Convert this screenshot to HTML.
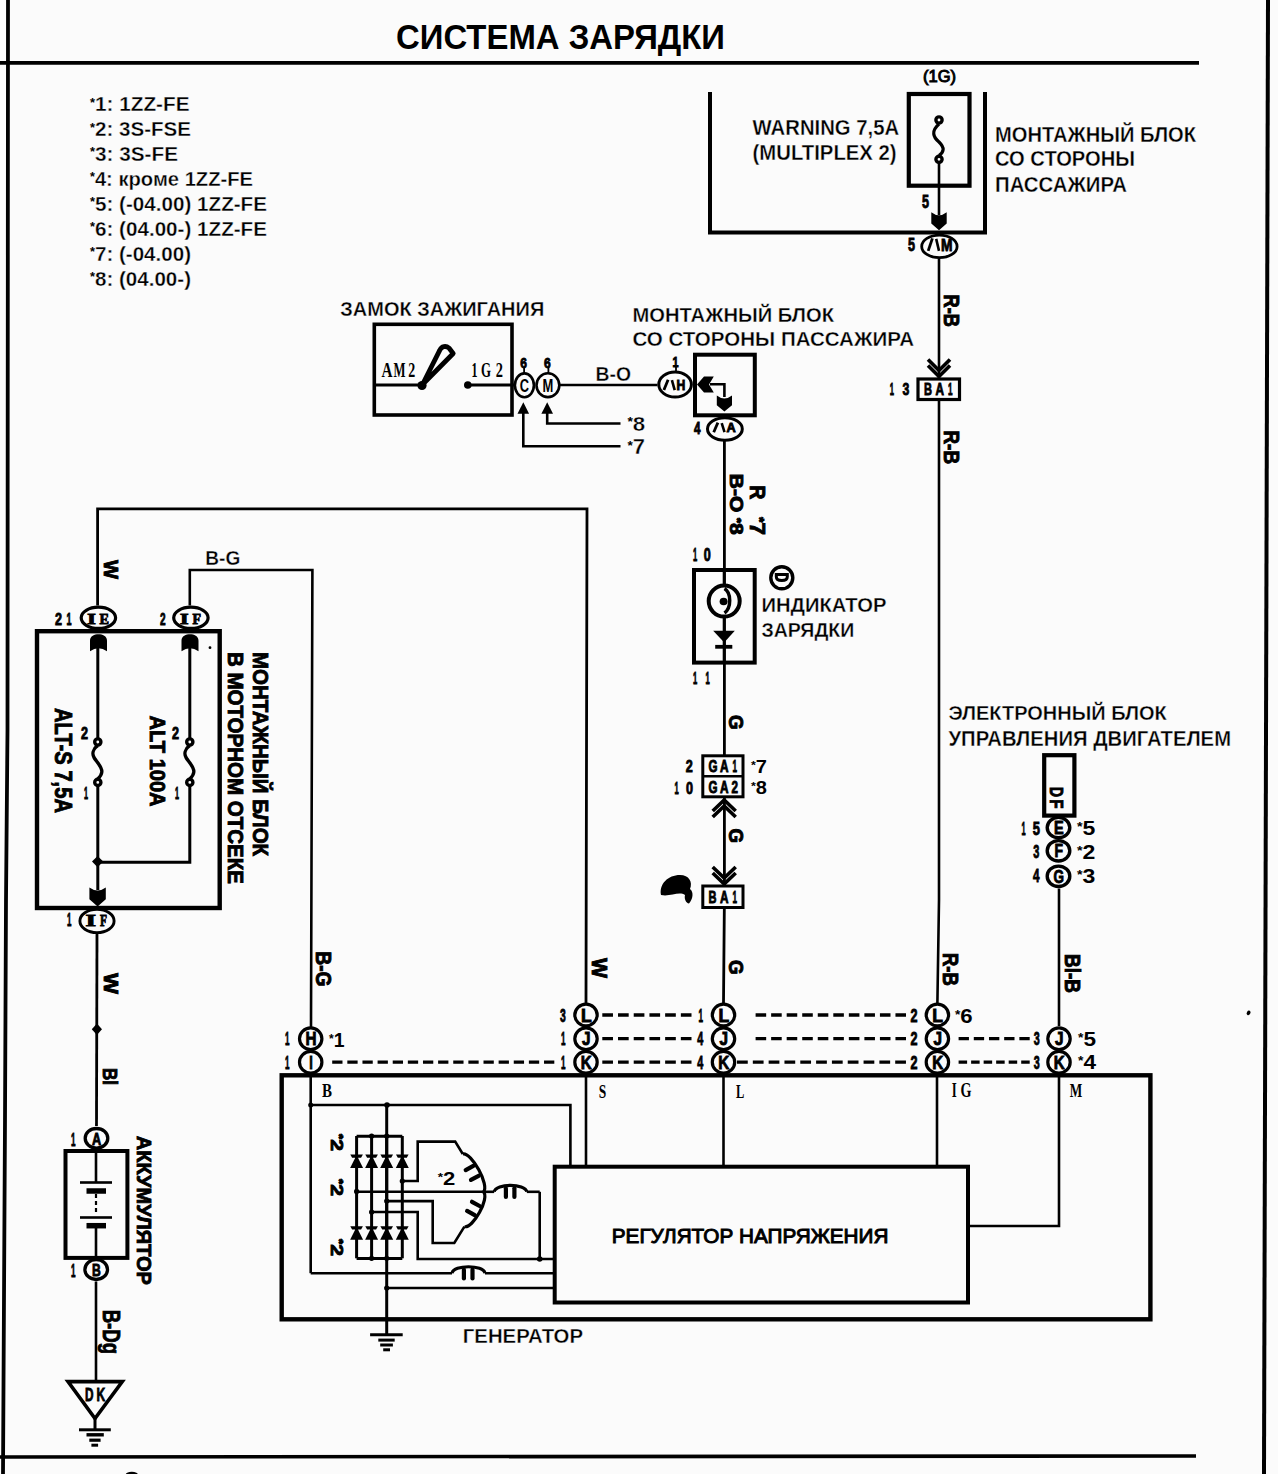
<!DOCTYPE html><html><head><meta charset="utf-8"><style>html,body{margin:0;padding:0;background:#fbfbfb;}svg{display:block}</style></head><body>
<svg width="1278" height="1474" viewBox="0 0 1278 1474">
<rect width="1278" height="1474" fill="#fbfbfb"/>
<polyline points="8,0 7.5,730 6,900 5,1120 3,1474" fill="none" stroke="#000" stroke-width="3.8" stroke-linejoin="miter" />
<polyline points="1268,0 1264,1474" fill="none" stroke="#000" stroke-width="4" stroke-linejoin="miter" />
<polyline points="0,62.8 1199,62.8" fill="none" stroke="#000" stroke-width="3.8" stroke-linejoin="miter" />
<polyline points="0,1457 1196,1456" fill="none" stroke="#000" stroke-width="3.6" stroke-linejoin="miter" />
<text x="396" y="48.5" font-size="34.59" font-weight="bold" font-family='"Liberation Sans", sans-serif' text-anchor="start" textLength="329" lengthAdjust="spacingAndGlyphs" >СИСТЕМА ЗАРЯДКИ</text>
<text x="90" y="111.3" font-size="20.94" font-weight="bold" font-family='"Liberation Sans", sans-serif' text-anchor="start" textLength="99.5" lengthAdjust="spacingAndGlyphs" stroke="#fbfbfb" stroke-width="0.35"><tspan font-size="12.99" dy="-4.61" stroke-width="0">*</tspan><tspan dy="4.61">1: 1ZZ-FE</tspan></text>
<text x="90" y="136.19" font-size="20.94" font-weight="bold" font-family='"Liberation Sans", sans-serif' text-anchor="start" textLength="101" lengthAdjust="spacingAndGlyphs" stroke="#fbfbfb" stroke-width="0.35"><tspan font-size="12.99" dy="-4.61" stroke-width="0">*</tspan><tspan dy="4.61">2: 3S-FSE</tspan></text>
<text x="90" y="161.07999999999998" font-size="20.94" font-weight="bold" font-family='"Liberation Sans", sans-serif' text-anchor="start" textLength="88" lengthAdjust="spacingAndGlyphs" stroke="#fbfbfb" stroke-width="0.35"><tspan font-size="12.99" dy="-4.61" stroke-width="0">*</tspan><tspan dy="4.61">3: 3S-FE</tspan></text>
<text x="90" y="185.97" font-size="20.94" font-weight="bold" font-family='"Liberation Sans", sans-serif' text-anchor="start" textLength="163" lengthAdjust="spacingAndGlyphs" stroke="#fbfbfb" stroke-width="0.35"><tspan font-size="12.99" dy="-4.61" stroke-width="0">*</tspan><tspan dy="4.61">4: кроме 1ZZ-FE</tspan></text>
<text x="90" y="210.86" font-size="20.94" font-weight="bold" font-family='"Liberation Sans", sans-serif' text-anchor="start" textLength="177" lengthAdjust="spacingAndGlyphs" stroke="#fbfbfb" stroke-width="0.35"><tspan font-size="12.99" dy="-4.61" stroke-width="0">*</tspan><tspan dy="4.61">5: (-04.00) 1ZZ-FE</tspan></text>
<text x="90" y="235.75" font-size="20.94" font-weight="bold" font-family='"Liberation Sans", sans-serif' text-anchor="start" textLength="177" lengthAdjust="spacingAndGlyphs" stroke="#fbfbfb" stroke-width="0.35"><tspan font-size="12.99" dy="-4.61" stroke-width="0">*</tspan><tspan dy="4.61">6: (04.00-) 1ZZ-FE</tspan></text>
<text x="90" y="260.64" font-size="20.94" font-weight="bold" font-family='"Liberation Sans", sans-serif' text-anchor="start" textLength="101" lengthAdjust="spacingAndGlyphs" stroke="#fbfbfb" stroke-width="0.35"><tspan font-size="12.99" dy="-4.61" stroke-width="0">*</tspan><tspan dy="4.61">7: (-04.00)</tspan></text>
<text x="90" y="285.53000000000003" font-size="20.94" font-weight="bold" font-family='"Liberation Sans", sans-serif' text-anchor="start" textLength="101" lengthAdjust="spacingAndGlyphs" stroke="#fbfbfb" stroke-width="0.35"><tspan font-size="12.99" dy="-4.61" stroke-width="0">*</tspan><tspan dy="4.61">8: (04.00-)</tspan></text>
<polyline points="710,92 710,232.5 985,232.5 985,92" fill="none" stroke="#000" stroke-width="4" stroke-linejoin="miter" />
<rect x="908.8" y="94" width="60.700000000000045" height="91.69999999999999" fill="none" stroke="#000" stroke-width="4.2"/>
<text x="923" y="82.3" font-size="16.57" font-weight="normal" font-family='"Liberation Sans", sans-serif' text-anchor="start" textLength="33" lengthAdjust="spacingAndGlyphs" stroke="#000" stroke-width="1.0">(1G)</text>
<circle cx="939" cy="120" r="3.1" fill="#fbfbfb" stroke="#000" stroke-width="3.4"/>
<path d="M939,124 C931,131 933,137 939,142 C945,148 944,152 939,155.5" fill="none" stroke="#000" stroke-width="3.2"/>
<circle cx="939" cy="159.3" r="3.1" fill="#fbfbfb" stroke="#000" stroke-width="3.4"/>
<polyline points="939,163 939,215" fill="none" stroke="#000" stroke-width="2.6" stroke-linejoin="miter" />
<text x="922" y="208" font-size="18.58" font-weight="bold" font-family='"Liberation Sans", sans-serif' text-anchor="start" textLength="7" lengthAdjust="spacingAndGlyphs" stroke="#000" stroke-width="0.9">5</text>
<path d="M931.3,212.3 Q939,218.3 946.7,212.3 L946.7,223.5 L939,230.3 L931.3,223.5 Z" fill="#000"/>
<ellipse cx="939.4" cy="246.4" rx="17.7" ry="11.3" fill="#fbfbfb" stroke="#000" stroke-width="2.8"/>
<line x1="928.1999999999999" y1="250.9" x2="932.4" y2="238.4" stroke="#000" stroke-width="2.8"/>
<line x1="936.1999999999999" y1="238.9" x2="939.0" y2="250.9" stroke="#000" stroke-width="2.6"/>
<text x="940.9" y="250.9" font-size="17.12" font-weight="bold" font-family='"Liberation Sans", sans-serif' text-anchor="start" textLength="11.5" lengthAdjust="spacingAndGlyphs" stroke="#000" stroke-width="0.9">M</text>
<text x="908" y="251" font-size="17.85" font-weight="bold" font-family='"Liberation Sans", sans-serif' text-anchor="start" textLength="7" lengthAdjust="spacingAndGlyphs" stroke="#000" stroke-width="0.9">5</text>
<text x="995" y="141.5" font-size="21.82" font-weight="bold" font-family='"Liberation Sans", sans-serif' text-anchor="start" textLength="201" lengthAdjust="spacingAndGlyphs" stroke="#fbfbfb" stroke-width="0.35">МОНТАЖНЫЙ БЛОК</text>
<text x="995" y="166.3" font-size="21.82" font-weight="bold" font-family='"Liberation Sans", sans-serif' text-anchor="start" textLength="140" lengthAdjust="spacingAndGlyphs" stroke="#fbfbfb" stroke-width="0.35">СО СТОРОНЫ</text>
<text x="995" y="191.5" font-size="21.82" font-weight="bold" font-family='"Liberation Sans", sans-serif' text-anchor="start" textLength="132" lengthAdjust="spacingAndGlyphs" stroke="#fbfbfb" stroke-width="0.35">ПАССАЖИРА</text>
<text x="752.6" y="134.6" font-size="22.83" font-weight="bold" font-family='"Liberation Sans", sans-serif' text-anchor="start" textLength="146.5" lengthAdjust="spacingAndGlyphs" stroke="#fbfbfb" stroke-width="0.35">WARNING 7,5A</text>
<text x="752.6" y="160" font-size="22.11" font-weight="bold" font-family='"Liberation Sans", sans-serif' text-anchor="start" textLength="144" lengthAdjust="spacingAndGlyphs" stroke="#fbfbfb" stroke-width="0.35">(MULTIPLEX 2)</text>
<polyline points="939,258.5 939,900 937.4,1003" fill="none" stroke="#000" stroke-width="2.6" stroke-linejoin="miter" />
<text x="0" y="0" transform="translate(944.3,294.5) rotate(90)" font-size="21.48" font-weight="bold" font-family='"Liberation Sans", sans-serif' text-anchor="start" textLength="32.5" lengthAdjust="spacingAndGlyphs" stroke="#000" stroke-width="0.9">R-B</text>
<polyline points="928,365.5 939,376.5 950,365.5" fill="none" stroke="#000" stroke-width="3.6" stroke-linejoin="miter" stroke-miterlimit="2"/>
<polyline points="928,359.5 939,370.5 950,359.5" fill="none" stroke="#000" stroke-width="3.6" stroke-linejoin="miter" stroke-miterlimit="2"/>
<rect x="918" y="379" width="41.5" height="20.5" fill="#fbfbfb" stroke="#000" stroke-width="3.2"/>
<text x="924" y="395.2" font-size="17.12" font-weight="bold" font-family='"Liberation Sans", sans-serif' text-anchor="start" textLength="8" lengthAdjust="spacingAndGlyphs" stroke="#000" stroke-width="0.9">B</text>
<text x="935.5" y="395.2" font-size="17.12" font-weight="bold" font-family='"Liberation Sans", sans-serif' text-anchor="start" textLength="8.5" lengthAdjust="spacingAndGlyphs" stroke="#000" stroke-width="0.9">A</text>
<text x="948" y="395.2" font-size="17.12" font-weight="bold" font-family='"Liberation Sans", sans-serif' text-anchor="start" textLength="4.5" lengthAdjust="spacingAndGlyphs" stroke="#000" stroke-width="0.9">1</text>
<text x="889.8" y="395" font-size="17.12" font-weight="bold" font-family='"Liberation Sans", sans-serif' text-anchor="start" textLength="4.2" lengthAdjust="spacingAndGlyphs" stroke="#000" stroke-width="0.9">1</text>
<text x="902.5" y="395" font-size="17.12" font-weight="bold" font-family='"Liberation Sans", sans-serif' text-anchor="start" textLength="6.8" lengthAdjust="spacingAndGlyphs" stroke="#000" stroke-width="0.9">3</text>
<text x="0" y="0" transform="translate(944.3,430.5) rotate(90)" font-size="21.48" font-weight="bold" font-family='"Liberation Sans", sans-serif' text-anchor="start" textLength="33.5" lengthAdjust="spacingAndGlyphs" stroke="#000" stroke-width="0.9">R-B</text>
<text x="340.3" y="315.8" font-size="20.94" font-weight="bold" font-family='"Liberation Sans", sans-serif' text-anchor="start" textLength="204" lengthAdjust="spacingAndGlyphs" stroke="#fbfbfb" stroke-width="0.35">ЗАМОК ЗАЖИГАНИЯ</text>
<rect x="374.3" y="324.3" width="137.7" height="90.69999999999999" fill="none" stroke="#000" stroke-width="3.6"/>
<polyline points="374.3,385 422.4,385" fill="none" stroke="#000" stroke-width="3" stroke-linejoin="miter" />
<circle cx="422" cy="385.5" r="4.6" fill="#000"/>
<path d="M422.5,384.5 L439.8,350.2 C441.5,346 446,345.5 449,348 L453.2,353.5 Z" fill="none" stroke="#000" stroke-width="4.8" stroke-linejoin="round"/>
<text x="381.6" y="376.9" font-size="19.91" font-weight="bold" font-family='"Liberation Serif", serif' text-anchor="start" textLength="11" lengthAdjust="spacingAndGlyphs" >A</text>
<text x="393.6" y="376.9" font-size="19.91" font-weight="bold" font-family='"Liberation Serif", serif' text-anchor="start" textLength="12" lengthAdjust="spacingAndGlyphs" >M</text>
<text x="408.2" y="376.9" font-size="19.91" font-weight="bold" font-family='"Liberation Serif", serif' text-anchor="start" textLength="7" lengthAdjust="spacingAndGlyphs" >2</text>
<text x="471.5" y="376.9" font-size="19.91" font-weight="bold" font-family='"Liberation Serif", serif' text-anchor="start" textLength="6" lengthAdjust="spacingAndGlyphs" >1</text>
<text x="481" y="376.9" font-size="19.91" font-weight="bold" font-family='"Liberation Serif", serif' text-anchor="start" textLength="10" lengthAdjust="spacingAndGlyphs" >G</text>
<text x="495.8" y="376.9" font-size="19.91" font-weight="bold" font-family='"Liberation Serif", serif' text-anchor="start" textLength="7.2" lengthAdjust="spacingAndGlyphs" >2</text>
<circle cx="467.8" cy="385" r="3.8" fill="#000"/>
<polyline points="467.8,385 512,385" fill="none" stroke="#000" stroke-width="3" stroke-linejoin="miter" />
<polyline points="512,385 514,385" fill="none" stroke="#000" stroke-width="3" stroke-linejoin="miter" />
<ellipse cx="524.4" cy="385.3" rx="9.5" ry="11.9" fill="#fbfbfb" stroke="#000" stroke-width="2.6"/>
<text x="524.4" y="391.8" font-size="18.90" font-weight="bold" font-family='"Liberation Sans", sans-serif' text-anchor="middle" textLength="9.3" lengthAdjust="spacingAndGlyphs" >C</text>
<ellipse cx="547.9" cy="385.2" rx="11.4" ry="11.9" fill="#fbfbfb" stroke="#000" stroke-width="2.6"/>
<text x="547.9" y="391.5" font-size="18.17" font-weight="bold" font-family='"Liberation Sans", sans-serif' text-anchor="middle" textLength="10.8" lengthAdjust="spacingAndGlyphs" >M</text>
<polyline points="524.1,367 524.1,373.4" fill="none" stroke="#000" stroke-width="1.8" stroke-linejoin="miter" />
<polyline points="548.4,367 548.4,373.4" fill="none" stroke="#000" stroke-width="1.8" stroke-linejoin="miter" />
<text x="520.3" y="367.5" font-size="15.23" font-weight="bold" font-family='"Liberation Sans", sans-serif' text-anchor="start" textLength="6.7" lengthAdjust="spacingAndGlyphs" stroke="#000" stroke-width="0.9">6</text>
<text x="544" y="367.5" font-size="15.23" font-weight="bold" font-family='"Liberation Sans", sans-serif' text-anchor="start" textLength="6.7" lengthAdjust="spacingAndGlyphs" stroke="#000" stroke-width="0.9">6</text>
<polyline points="559.3,385 657.5,385" fill="none" stroke="#000" stroke-width="2.6" stroke-linejoin="miter" />
<text x="595.5" y="380.6" font-size="20.36" font-weight="bold" font-family='"Liberation Sans", sans-serif' text-anchor="start" textLength="35.5" lengthAdjust="spacingAndGlyphs" stroke="#fbfbfb" stroke-width="0.35">B-O</text>
<polygon points="523.3,402.2 529.0999999999999,413.7 517.5,413.7" fill="#000"/>
<polygon points="547.2,402.2 553.0,413.7 541.4000000000001,413.7" fill="#000"/>
<polyline points="523.3,413 523.3,446.3 620.5,446.3" fill="none" stroke="#000" stroke-width="2.6" stroke-linejoin="miter" />
<polyline points="547.2,413 547.2,423.5 620.5,423.5" fill="none" stroke="#000" stroke-width="2.6" stroke-linejoin="miter" />
<text x="627.5" y="430.6" font-size="20.65" font-weight="bold" font-family='"Liberation Sans", sans-serif' text-anchor="start" textLength="17.8" lengthAdjust="spacingAndGlyphs" stroke="#fbfbfb" stroke-width="0.35"><tspan font-size="12.81" dy="-4.54" stroke-width="0">*</tspan><tspan dy="4.54">8</tspan></text>
<text x="627.5" y="454.3" font-size="21.82" font-weight="bold" font-family='"Liberation Sans", sans-serif' text-anchor="start" textLength="17.5" lengthAdjust="spacingAndGlyphs" stroke="#fbfbfb" stroke-width="0.35"><tspan font-size="13.53" dy="-4.80" stroke-width="0">*</tspan><tspan dy="4.80">7</tspan></text>
<text x="632.5" y="322" font-size="19.93" font-weight="bold" font-family='"Liberation Sans", sans-serif' text-anchor="start" textLength="201.5" lengthAdjust="spacingAndGlyphs" stroke="#fbfbfb" stroke-width="0.35">МОНТАЖНЫЙ БЛОК</text>
<text x="632.5" y="346" font-size="20.65" font-weight="bold" font-family='"Liberation Sans", sans-serif' text-anchor="start" textLength="281.5" lengthAdjust="spacingAndGlyphs" stroke="#fbfbfb" stroke-width="0.35">СО СТОРОНЫ ПАССАЖИРА</text>
<rect x="695" y="354.7" width="59.799999999999955" height="60.60000000000002" fill="none" stroke="#000" stroke-width="4"/>
<ellipse cx="675.1" cy="384.5" rx="16.3" ry="12.5" fill="#fbfbfb" stroke="#000" stroke-width="3"/>
<line x1="663.9" y1="390.1" x2="668.1" y2="379.7" stroke="#000" stroke-width="2.8"/>
<line x1="671.9" y1="380.2" x2="674.7" y2="390.1" stroke="#000" stroke-width="2.6"/>
<text x="676.6" y="390.1" font-size="14.07" font-weight="bold" font-family='"Liberation Sans", sans-serif' text-anchor="start" textLength="8.8" lengthAdjust="spacingAndGlyphs" stroke="#000" stroke-width="0.9">H</text>
<polyline points="676,366 676,372" fill="none" stroke="#000" stroke-width="1.8" stroke-linejoin="miter" />
<text x="672.5" y="366.5" font-size="14.22" font-weight="bold" font-family='"Liberation Sans", sans-serif' text-anchor="start" textLength="6" lengthAdjust="spacingAndGlyphs" stroke="#000" stroke-width="0.9">1</text>
<polygon points="697,384.5 704,376.6 713.8,376.6 709,384.5 713.8,392.4 704,392.4" fill="#000"/>
<polyline points="710,384.3 724.4,384.3 724.4,397" fill="none" stroke="#000" stroke-width="2.6" stroke-linejoin="miter" />
<path d="M716.8,395.4 Q724.4,401.4 732.0,395.4 L732.0,405.3 L724.4,411.4 L716.8,405.3 Z" fill="#000"/>
<ellipse cx="724.9" cy="429" rx="17.4" ry="11.2" fill="#fbfbfb" stroke="#000" stroke-width="3"/>
<line x1="713.6999999999999" y1="432.2" x2="717.9" y2="422.6" stroke="#000" stroke-width="2.8"/>
<line x1="721.6999999999999" y1="423.1" x2="724.5" y2="432.2" stroke="#000" stroke-width="2.6"/>
<text x="726.4" y="432.2" font-size="12.91" font-weight="bold" font-family='"Liberation Sans", sans-serif' text-anchor="start" textLength="9.2" lengthAdjust="spacingAndGlyphs" stroke="#000" stroke-width="0.9">A</text>
<text x="694" y="433.6" font-size="16.40" font-weight="bold" font-family='"Liberation Sans", sans-serif' text-anchor="start" textLength="6.5" lengthAdjust="spacingAndGlyphs" stroke="#000" stroke-width="0.9">4</text>
<polyline points="724.4,440.2 724.4,900 723.5,1003" fill="none" stroke="#000" stroke-width="2.8" stroke-linejoin="miter" />
<text x="0" y="0" transform="translate(729.5,473.8) rotate(90)" font-size="17.85" font-weight="bold" font-family='"Liberation Sans", sans-serif' text-anchor="start" textLength="61" lengthAdjust="spacingAndGlyphs" stroke="#000" stroke-width="0.9">B-O <tspan font-size="11.07" dy="-3.93">*</tspan><tspan dy="3.93">8</tspan></text>
<text x="0" y="0" transform="translate(750,485.2) rotate(90)" font-size="21.63" font-weight="bold" font-family='"Liberation Sans", sans-serif' text-anchor="start" textLength="14.2" lengthAdjust="spacingAndGlyphs" stroke="#000" stroke-width="0.9">R</text>
<text x="0" y="0" transform="translate(750.4,517) rotate(90)" font-size="21.19" font-weight="bold" font-family='"Liberation Sans", sans-serif' text-anchor="start" textLength="18" lengthAdjust="spacingAndGlyphs" stroke="#000" stroke-width="0.9"><tspan font-size="13.14" dy="-4.66">*</tspan><tspan dy="4.66">7</tspan></text>
<text x="692.9" y="561" font-size="17.85" font-weight="bold" font-family='"Liberation Sans", sans-serif' text-anchor="start" textLength="4.2" lengthAdjust="spacingAndGlyphs" stroke="#000" stroke-width="0.9">1</text>
<text x="703.8" y="561" font-size="17.85" font-weight="bold" font-family='"Liberation Sans", sans-serif' text-anchor="start" textLength="7" lengthAdjust="spacingAndGlyphs" stroke="#000" stroke-width="0.9">0</text>
<rect x="694" y="570" width="60.700000000000045" height="92.60000000000002" fill="none" stroke="#000" stroke-width="4"/>
<polyline points="724.2,570 724.2,662.6" fill="none" stroke="#000" stroke-width="3" stroke-linejoin="miter" />
<circle cx="724.2" cy="601.1" r="15.5" fill="#fbfbfb" stroke="#000" stroke-width="4"/>
<path d="M724.5,588.5 C731.5,593 731.5,608 724.5,613" fill="none" stroke="#000" stroke-width="3.4"/>
<ellipse cx="723.6" cy="601.5" rx="4" ry="3.8" fill="#000"/>
<polygon points="713.2,630.8 734.8,630.8 724.2,642.5" fill="#000"/>
<polyline points="715.2,646.8 732.3,646.8" fill="none" stroke="#000" stroke-width="3.8" stroke-linejoin="miter" />
<text x="693" y="683.5" font-size="16.40" font-weight="bold" font-family='"Liberation Sans", sans-serif' text-anchor="start" textLength="4.2" lengthAdjust="spacingAndGlyphs" stroke="#000" stroke-width="0.9">1</text>
<text x="705.5" y="683.5" font-size="16.40" font-weight="bold" font-family='"Liberation Sans", sans-serif' text-anchor="start" textLength="4.2" lengthAdjust="spacingAndGlyphs" stroke="#000" stroke-width="0.9">1</text>
<circle cx="781.8" cy="577.8" r="11" fill="#fbfbfb" stroke="#000" stroke-width="3.4"/>
<path d="M776.3,574.5 L787.3,574.5 L787.3,576.8 Q787.3,580.5 781.8,580.5 Q776.3,580.5 776.3,576.8 Z" fill="none" stroke="#000" stroke-width="3"/>
<text x="761.4" y="611.8" font-size="20.65" font-weight="bold" font-family='"Liberation Sans", sans-serif' text-anchor="start" textLength="125" lengthAdjust="spacingAndGlyphs" stroke="#fbfbfb" stroke-width="0.35">ИНДИКАТОР</text>
<text x="761.4" y="637" font-size="20.65" font-weight="bold" font-family='"Liberation Sans", sans-serif' text-anchor="start" textLength="93" lengthAdjust="spacingAndGlyphs" stroke="#fbfbfb" stroke-width="0.35">ЗАРЯДКИ</text>
<text x="0" y="0" transform="translate(729,715) rotate(90)" font-size="20.03" font-weight="bold" font-family='"Liberation Sans", sans-serif' text-anchor="start" textLength="14.6" lengthAdjust="spacingAndGlyphs" stroke="#000" stroke-width="0.9">G</text>
<rect x="702.8" y="755.8" width="40.200000000000045" height="41.0" fill="#fbfbfb" stroke="#000" stroke-width="3"/>
<polyline points="702.8,776.3 743,776.3" fill="none" stroke="#000" stroke-width="2.6" stroke-linejoin="miter" />
<text x="708.5" y="771.8" font-size="16.40" font-weight="bold" font-family='"Liberation Sans", sans-serif' text-anchor="start" textLength="9" lengthAdjust="spacingAndGlyphs" stroke="#000" stroke-width="0.9">G</text>
<text x="720" y="771.8" font-size="16.40" font-weight="bold" font-family='"Liberation Sans", sans-serif' text-anchor="start" textLength="8.5" lengthAdjust="spacingAndGlyphs" stroke="#000" stroke-width="0.9">A</text>
<text x="732.5" y="771.8" font-size="16.40" font-weight="bold" font-family='"Liberation Sans", sans-serif' text-anchor="start" textLength="4.5" lengthAdjust="spacingAndGlyphs" stroke="#000" stroke-width="0.9">1</text>
<text x="708.5" y="793" font-size="16.40" font-weight="bold" font-family='"Liberation Sans", sans-serif' text-anchor="start" textLength="9" lengthAdjust="spacingAndGlyphs" stroke="#000" stroke-width="0.9">G</text>
<text x="720" y="793" font-size="16.40" font-weight="bold" font-family='"Liberation Sans", sans-serif' text-anchor="start" textLength="8.5" lengthAdjust="spacingAndGlyphs" stroke="#000" stroke-width="0.9">A</text>
<text x="731.5" y="793" font-size="16.40" font-weight="bold" font-family='"Liberation Sans", sans-serif' text-anchor="start" textLength="6.5" lengthAdjust="spacingAndGlyphs" stroke="#000" stroke-width="0.9">2</text>
<text x="685.8" y="772" font-size="16.40" font-weight="bold" font-family='"Liberation Sans", sans-serif' text-anchor="start" textLength="7" lengthAdjust="spacingAndGlyphs" stroke="#000" stroke-width="0.9">2</text>
<text x="674.4" y="794" font-size="17.12" font-weight="bold" font-family='"Liberation Sans", sans-serif' text-anchor="start" textLength="4.2" lengthAdjust="spacingAndGlyphs" stroke="#000" stroke-width="0.9">1</text>
<text x="686" y="794" font-size="17.12" font-weight="bold" font-family='"Liberation Sans", sans-serif' text-anchor="start" textLength="7" lengthAdjust="spacingAndGlyphs" stroke="#000" stroke-width="0.9">0</text>
<text x="751" y="773" font-size="18.90" font-weight="bold" font-family='"Liberation Sans", sans-serif' text-anchor="start" textLength="16" lengthAdjust="spacingAndGlyphs" ><tspan font-size="11.72" dy="-4.16">*</tspan><tspan dy="4.16">7</tspan></text>
<text x="751" y="794" font-size="18.90" font-weight="bold" font-family='"Liberation Sans", sans-serif' text-anchor="start" textLength="16" lengthAdjust="spacingAndGlyphs" ><tspan font-size="11.72" dy="-4.16">*</tspan><tspan dy="4.16">8</tspan></text>
<polyline points="712.7,811 724.2,800 735.7,811" fill="none" stroke="#000" stroke-width="3.6" stroke-linejoin="miter" stroke-miterlimit="2"/>
<polyline points="712.7,817 724.2,806 735.7,817" fill="none" stroke="#000" stroke-width="3.6" stroke-linejoin="miter" stroke-miterlimit="2"/>
<text x="0" y="0" transform="translate(729,828.4) rotate(90)" font-size="20.03" font-weight="bold" font-family='"Liberation Sans", sans-serif' text-anchor="start" textLength="14.6" lengthAdjust="spacingAndGlyphs" stroke="#000" stroke-width="0.9">G</text>
<polyline points="712.7,873 724.2,884 735.7,873" fill="none" stroke="#000" stroke-width="3.6" stroke-linejoin="miter" stroke-miterlimit="2"/>
<polyline points="712.7,867 724.2,878 735.7,867" fill="none" stroke="#000" stroke-width="3.6" stroke-linejoin="miter" stroke-miterlimit="2"/>
<rect x="702.8" y="886" width="40.200000000000045" height="21.5" fill="#fbfbfb" stroke="#000" stroke-width="3"/>
<text x="708.5" y="903.2" font-size="17.12" font-weight="bold" font-family='"Liberation Sans", sans-serif' text-anchor="start" textLength="8" lengthAdjust="spacingAndGlyphs" stroke="#000" stroke-width="0.9">B</text>
<text x="720" y="903.2" font-size="17.12" font-weight="bold" font-family='"Liberation Sans", sans-serif' text-anchor="start" textLength="8.5" lengthAdjust="spacingAndGlyphs" stroke="#000" stroke-width="0.9">A</text>
<text x="732.5" y="903.2" font-size="17.12" font-weight="bold" font-family='"Liberation Sans", sans-serif' text-anchor="start" textLength="4.5" lengthAdjust="spacingAndGlyphs" stroke="#000" stroke-width="0.9">1</text>
<path d="M661,895 C659,884 668,875 680,875 C689,875 693,882 690,889 C694,892 693,899 689,903.5 C686,903 684,899 685,895 C679,891 670,897 661,895 Z" fill="#000"/>
<text x="0" y="0" transform="translate(729,960) rotate(90)" font-size="20.03" font-weight="bold" font-family='"Liberation Sans", sans-serif' text-anchor="start" textLength="14.6" lengthAdjust="spacingAndGlyphs" stroke="#000" stroke-width="0.9">G</text>
<polyline points="97.6,605.5 97.6,508.8 587,508.8 586,1003" fill="none" stroke="#000" stroke-width="2.8" stroke-linejoin="miter" />
<text x="0" y="0" transform="translate(104,560) rotate(90)" font-size="20.76" font-weight="bold" font-family='"Liberation Sans", sans-serif' text-anchor="start" textLength="19" lengthAdjust="spacingAndGlyphs" stroke="#000" stroke-width="0.9">W</text>
<polyline points="189.8,605.5 189.8,570 312.4,570 311,1027" fill="none" stroke="#000" stroke-width="2.6" stroke-linejoin="miter" />
<text x="205.3" y="565" font-size="20.36" font-weight="bold" font-family='"Liberation Sans", sans-serif' text-anchor="start" textLength="35" lengthAdjust="spacingAndGlyphs" stroke="#fbfbfb" stroke-width="0.35">B-G</text>
<rect x="37" y="631.2" width="182.7" height="276.79999999999995" fill="none" stroke="#000" stroke-width="4.4"/>
<ellipse cx="98.4" cy="617.8" rx="17.2" ry="10.6" fill="#fbfbfb" stroke="#000" stroke-width="3.2"/>
<text x="87.3" y="623.9" font-size="14.65" font-weight="bold" font-family='"Liberation Serif", serif' text-anchor="start" textLength="8.5" lengthAdjust="spacingAndGlyphs" stroke="#000" stroke-width="0.9">I</text>
<text x="99.5" y="623.9" font-size="14.65" font-weight="bold" font-family='"Liberation Serif", serif' text-anchor="start" textLength="9.5" lengthAdjust="spacingAndGlyphs" stroke="#000" stroke-width="0.9">E</text>
<ellipse cx="190.9" cy="617.8" rx="17.2" ry="10.6" fill="#fbfbfb" stroke="#000" stroke-width="3.2"/>
<text x="180" y="623.9" font-size="14.65" font-weight="bold" font-family='"Liberation Serif", serif' text-anchor="start" textLength="8.5" lengthAdjust="spacingAndGlyphs" stroke="#000" stroke-width="0.9">I</text>
<text x="192.5" y="623.9" font-size="14.65" font-weight="bold" font-family='"Liberation Serif", serif' text-anchor="start" textLength="8.5" lengthAdjust="spacingAndGlyphs" stroke="#000" stroke-width="0.9">F</text>
<text x="55" y="624.6" font-size="17.41" font-weight="bold" font-family='"Liberation Sans", sans-serif' text-anchor="start" textLength="7" lengthAdjust="spacingAndGlyphs" stroke="#000" stroke-width="0.9">2</text>
<text x="66.5" y="624.6" font-size="17.41" font-weight="bold" font-family='"Liberation Sans", sans-serif' text-anchor="start" textLength="5" lengthAdjust="spacingAndGlyphs" stroke="#000" stroke-width="0.9">1</text>
<text x="159.9" y="624.6" font-size="17.41" font-weight="bold" font-family='"Liberation Sans", sans-serif' text-anchor="start" textLength="5.6" lengthAdjust="spacingAndGlyphs" stroke="#000" stroke-width="0.9">2</text>
<path d="M90.0,651.3 L90.0,640.8 C90.0,635.8 94.5,634.3 98.5,634.3 C102.5,634.3 107.0,635.8 107.0,640.8 L107.0,651.3 Q98.5,645.3 90.0,651.3 Z" fill="#000"/>
<path d="M181.5,651.3 L181.5,640.8 C181.5,635.8 186,634.3 190,634.3 C194,634.3 198.5,635.8 198.5,640.8 L198.5,651.3 Q190,645.3 181.5,651.3 Z" fill="#000"/>
<circle cx="210" cy="647.7" r="1.4" fill="#000"/>
<polyline points="97.8,647 97.8,739" fill="none" stroke="#000" stroke-width="3" stroke-linejoin="miter" />
<polyline points="97.8,785.5 97.8,890" fill="none" stroke="#000" stroke-width="3" stroke-linejoin="miter" />
<polyline points="189.8,647 189.8,739" fill="none" stroke="#000" stroke-width="3" stroke-linejoin="miter" />
<polyline points="189.8,785.5 189.8,862.2 97.8,862.2" fill="none" stroke="#000" stroke-width="3" stroke-linejoin="miter" />
<polygon points="97.6,856.0 103.19999999999999,861.6 97.6,867.2 92.0,861.6" fill="#000"/>
<circle cx="97.8" cy="742" r="3.1" fill="#fbfbfb" stroke="#000" stroke-width="3.4"/>
<path d="M97.8,745.5 C92.8,749 91.8,754 94.3,758 C96.8,762 102.3,767 101.8,772 C101.6,775 99.3,777.5 97.8,779" fill="none" stroke="#000" stroke-width="3.4"/>
<circle cx="97.8" cy="782.4" r="3.1" fill="#fbfbfb" stroke="#000" stroke-width="3.4"/>
<circle cx="189.8" cy="742" r="3.1" fill="#fbfbfb" stroke="#000" stroke-width="3.4"/>
<path d="M189.8,745.5 C184.8,749 183.8,754 186.3,758 C188.8,762 194.3,767 193.8,772 C193.60000000000002,775 191.3,777.5 189.8,779" fill="none" stroke="#000" stroke-width="3.4"/>
<circle cx="189.8" cy="782.4" r="3.1" fill="#fbfbfb" stroke="#000" stroke-width="3.4"/>
<text x="81" y="738.6" font-size="16.40" font-weight="bold" font-family='"Liberation Sans", sans-serif' text-anchor="start" textLength="7" lengthAdjust="spacingAndGlyphs" stroke="#000" stroke-width="0.9">2</text>
<text x="172" y="738.6" font-size="16.40" font-weight="bold" font-family='"Liberation Sans", sans-serif' text-anchor="start" textLength="7" lengthAdjust="spacingAndGlyphs" stroke="#000" stroke-width="0.9">2</text>
<text x="84" y="799" font-size="16.40" font-weight="bold" font-family='"Liberation Sans", sans-serif' text-anchor="start" textLength="4" lengthAdjust="spacingAndGlyphs" stroke="#000" stroke-width="0.9">1</text>
<text x="175" y="799" font-size="16.40" font-weight="bold" font-family='"Liberation Sans", sans-serif' text-anchor="start" textLength="4" lengthAdjust="spacingAndGlyphs" stroke="#000" stroke-width="0.9">1</text>
<text x="0" y="0" transform="translate(55,708) rotate(90)" font-size="24.39" font-weight="bold" font-family='"Liberation Sans", sans-serif' text-anchor="start" textLength="105" lengthAdjust="spacingAndGlyphs" stroke="#000" stroke-width="0.9">ALT-S 7,5A</text>
<text x="0" y="0" transform="translate(150.4,715.6) rotate(90)" font-size="22.79" font-weight="bold" font-family='"Liberation Sans", sans-serif' text-anchor="start" textLength="91" lengthAdjust="spacingAndGlyphs" stroke="#000" stroke-width="0.9">ALT 100A</text>
<text x="0" y="0" transform="translate(253.3,652) rotate(90)" font-size="22.94" font-weight="bold" font-family='"Liberation Sans", sans-serif' text-anchor="start" textLength="204" lengthAdjust="spacingAndGlyphs" stroke="#000" stroke-width="0.9">МОНТАЖНЫЙ БЛОК</text>
<text x="0" y="0" transform="translate(228,652) rotate(90)" font-size="22.94" font-weight="bold" font-family='"Liberation Sans", sans-serif' text-anchor="start" textLength="232" lengthAdjust="spacingAndGlyphs" stroke="#000" stroke-width="0.9">В МОТОРНОМ ОТСЕКЕ</text>
<path d="M89.39999999999999,887.4 Q97.6,893.4 105.8,887.4 L105.8,899.2 L97.6,906.4 L89.39999999999999,899.2 Z" fill="#000"/>
<ellipse cx="97" cy="921" rx="17.1" ry="11.6" fill="#fbfbfb" stroke="#000" stroke-width="2.9"/>
<text x="85.5" y="925.7" font-size="17.12" font-weight="bold" font-family='"Liberation Serif", serif' text-anchor="start" textLength="10.5" lengthAdjust="spacingAndGlyphs" stroke="#000" stroke-width="0.9">I</text>
<text x="100" y="925.7" font-size="17.12" font-weight="bold" font-family='"Liberation Serif", serif' text-anchor="start" textLength="7" lengthAdjust="spacingAndGlyphs" stroke="#000" stroke-width="0.9">F</text>
<text x="66.9" y="925.7" font-size="17.85" font-weight="bold" font-family='"Liberation Sans", sans-serif' text-anchor="start" textLength="4.4" lengthAdjust="spacingAndGlyphs" stroke="#000" stroke-width="0.9">1</text>
<polyline points="97,932.6 96.5,1126" fill="none" stroke="#000" stroke-width="2.8" stroke-linejoin="miter" />
<text x="0" y="0" transform="translate(103.5,973) rotate(90)" font-size="20.76" font-weight="bold" font-family='"Liberation Sans", sans-serif' text-anchor="start" textLength="21" lengthAdjust="spacingAndGlyphs" stroke="#000" stroke-width="0.9">W</text>
<polygon points="96.9,1023.5 102,1029.2 96.9,1035 91.8,1029.2" fill="#000"/>
<text x="0" y="0" transform="translate(102.6,1068) rotate(90)" font-size="20.76" font-weight="bold" font-family='"Liberation Sans", sans-serif' text-anchor="start" textLength="17" lengthAdjust="spacingAndGlyphs" stroke="#000" stroke-width="0.9">Bl</text>
<ellipse cx="96.5" cy="1138.3" rx="11.3" ry="9.8" fill="#fbfbfb" stroke="#000" stroke-width="3.3"/>
<text x="96.7" y="1144.5" font-size="16.98" font-weight="bold" font-family='"Liberation Sans", sans-serif' text-anchor="middle" textLength="9.2" lengthAdjust="spacingAndGlyphs" stroke="#000" stroke-width="0.9">A</text>
<text x="71" y="1146" font-size="17.85" font-weight="bold" font-family='"Liberation Sans", sans-serif' text-anchor="start" textLength="4.5" lengthAdjust="spacingAndGlyphs" stroke="#000" stroke-width="0.9">1</text>
<rect x="65.5" y="1151" width="61.900000000000006" height="106.90000000000009" fill="none" stroke="#000" stroke-width="4"/>
<polyline points="96,1151 96,1182.5" fill="none" stroke="#000" stroke-width="2.6" stroke-linejoin="miter" />
<polyline points="80,1182.5 112,1182.5" fill="none" stroke="#000" stroke-width="2.6" stroke-linejoin="miter" />
<polyline points="86.5,1191 106,1191" fill="none" stroke="#000" stroke-width="5.5" stroke-linejoin="miter" />
<polyline points="96,1194 96,1215" fill="none" stroke="#000" stroke-width="2.2" stroke-linejoin="miter" stroke-dasharray="4,3"/>
<polyline points="80,1217.5 112,1217.5" fill="none" stroke="#000" stroke-width="2.6" stroke-linejoin="miter" />
<polyline points="86.5,1225.7 106,1225.7" fill="none" stroke="#000" stroke-width="5.5" stroke-linejoin="miter" />
<polyline points="96,1228 96,1258" fill="none" stroke="#000" stroke-width="2.6" stroke-linejoin="miter" />
<ellipse cx="96.2" cy="1269.6" rx="11.3" ry="9.9" fill="#fbfbfb" stroke="#000" stroke-width="3.3"/>
<text x="96.4" y="1275.8" font-size="16.98" font-weight="bold" font-family='"Liberation Sans", sans-serif' text-anchor="middle" textLength="8.8" lengthAdjust="spacingAndGlyphs" stroke="#000" stroke-width="0.9">B</text>
<text x="71" y="1277" font-size="17.85" font-weight="bold" font-family='"Liberation Sans", sans-serif' text-anchor="start" textLength="4.5" lengthAdjust="spacingAndGlyphs" stroke="#000" stroke-width="0.9">1</text>
<text x="0" y="0" transform="translate(136.7,1135.8) rotate(90)" font-size="21.05" font-weight="bold" font-family='"Liberation Sans", sans-serif' text-anchor="start" textLength="149" lengthAdjust="spacingAndGlyphs" stroke="#000" stroke-width="0.9">АККУМУЛЯТОР</text>
<polyline points="96,1281.5 96,1381" fill="none" stroke="#000" stroke-width="2.6" stroke-linejoin="miter" />
<text x="0" y="0" transform="translate(102.8,1309.7) rotate(90)" font-size="24.39" font-weight="bold" font-family='"Liberation Sans", sans-serif' text-anchor="start" textLength="44.3" lengthAdjust="spacingAndGlyphs" stroke="#000" stroke-width="0.9">B-Dg</text>
<polygon points="68,1381.6 122.3,1381.6 95,1418.5" fill="#fbfbfb" stroke="#000" stroke-width="3.6" stroke-linejoin="miter"/>
<text x="85" y="1400.7" font-size="18.43" font-weight="bold" font-family='"Liberation Sans", sans-serif' text-anchor="start" textLength="8.5" lengthAdjust="spacingAndGlyphs" stroke="#000" stroke-width="0.9">D</text>
<text x="96.5" y="1400.7" font-size="18.43" font-weight="bold" font-family='"Liberation Sans", sans-serif' text-anchor="start" textLength="8.7" lengthAdjust="spacingAndGlyphs" stroke="#000" stroke-width="0.9">K</text>
<polyline points="95,1417 95,1429.8" fill="none" stroke="#000" stroke-width="3" stroke-linejoin="miter" />
<polyline points="79,1429.8 110.8,1429.8" fill="none" stroke="#000" stroke-width="3" stroke-linejoin="miter" />
<polyline points="86.5,1434.8 103.8,1434.8" fill="none" stroke="#000" stroke-width="3.4" stroke-linejoin="miter" />
<polyline points="89.3,1440.2 100.6,1440.2" fill="none" stroke="#000" stroke-width="3.2" stroke-linejoin="miter" />
<polyline points="91.4,1445.2 98.1,1445.2" fill="none" stroke="#000" stroke-width="3" stroke-linejoin="miter" />
<text x="0" y="0" transform="translate(316.3,951.3) rotate(90)" font-size="21.48" font-weight="bold" font-family='"Liberation Sans", sans-serif' text-anchor="start" textLength="35.2" lengthAdjust="spacingAndGlyphs" stroke="#000" stroke-width="0.9">B-G</text>
<text x="0" y="0" transform="translate(592.4,958) rotate(90)" font-size="21.48" font-weight="bold" font-family='"Liberation Sans", sans-serif' text-anchor="start" textLength="20" lengthAdjust="spacingAndGlyphs" stroke="#000" stroke-width="0.9">W</text>
<text x="0" y="0" transform="translate(943.3,953) rotate(90)" font-size="21.19" font-weight="bold" font-family='"Liberation Sans", sans-serif' text-anchor="start" textLength="32.8" lengthAdjust="spacingAndGlyphs" stroke="#000" stroke-width="0.9">R-B</text>
<text x="0" y="0" transform="translate(1065.4,954) rotate(90)" font-size="21.19" font-weight="bold" font-family='"Liberation Sans", sans-serif' text-anchor="start" textLength="38.8" lengthAdjust="spacingAndGlyphs" stroke="#000" stroke-width="0.9">Bl-B</text>
<polyline points="1059,888.5 1059,1026" fill="none" stroke="#000" stroke-width="2.6" stroke-linejoin="miter" />
<ellipse cx="310.7" cy="1038.7" rx="11.2" ry="10.8" fill="#fbfbfb" stroke="#000" stroke-width="3.2"/>
<text x="311.0" y="1045.3" font-size="18.14" font-weight="bold" font-family='"Liberation Sans", sans-serif' text-anchor="middle" textLength="11" lengthAdjust="spacingAndGlyphs" stroke="#000" stroke-width="0.9">H</text>
<ellipse cx="310.7" cy="1062.2" rx="11.2" ry="10.8" fill="#fbfbfb" stroke="#000" stroke-width="3.2"/>
<text x="311.0" y="1068.8" font-size="18.14" font-weight="bold" font-family='"Liberation Sans", sans-serif' text-anchor="middle" textLength="3.5" lengthAdjust="spacingAndGlyphs" stroke="#000" stroke-width="0.9">I</text>
<text x="285" y="1045.3" font-size="18.58" font-weight="bold" font-family='"Liberation Sans", sans-serif' text-anchor="start" textLength="4.5" lengthAdjust="spacingAndGlyphs" stroke="#000" stroke-width="0.9">1</text>
<text x="285" y="1069.3" font-size="18.58" font-weight="bold" font-family='"Liberation Sans", sans-serif' text-anchor="start" textLength="4.5" lengthAdjust="spacingAndGlyphs" stroke="#000" stroke-width="0.9">1</text>
<text x="329" y="1047" font-size="20.35" font-weight="bold" font-family='"Liberation Sans", sans-serif' text-anchor="start" textLength="15.5" lengthAdjust="spacingAndGlyphs" ><tspan font-size="12.62" dy="-4.48">*</tspan><tspan dy="4.48">1</tspan></text>
<ellipse cx="586" cy="1015.0" rx="11.2" ry="10.8" fill="#fbfbfb" stroke="#000" stroke-width="3.2"/>
<text x="586.3" y="1021.6" font-size="18.14" font-weight="bold" font-family='"Liberation Sans", sans-serif' text-anchor="middle" textLength="10.7" lengthAdjust="spacingAndGlyphs" stroke="#000" stroke-width="0.9">L</text>
<ellipse cx="586" cy="1038.7" rx="11.2" ry="10.8" fill="#fbfbfb" stroke="#000" stroke-width="3.2"/>
<text x="586.3" y="1045.3" font-size="18.14" font-weight="bold" font-family='"Liberation Sans", sans-serif' text-anchor="middle" textLength="8.5" lengthAdjust="spacingAndGlyphs" stroke="#000" stroke-width="0.9">J</text>
<ellipse cx="586" cy="1062.2" rx="11.2" ry="10.8" fill="#fbfbfb" stroke="#000" stroke-width="3.2"/>
<text x="586.3" y="1068.8" font-size="18.14" font-weight="bold" font-family='"Liberation Sans", sans-serif' text-anchor="middle" textLength="11" lengthAdjust="spacingAndGlyphs" stroke="#000" stroke-width="0.9">K</text>
<text x="560" y="1021.9" font-size="18.58" font-weight="bold" font-family='"Liberation Sans", sans-serif' text-anchor="start" textLength="5.8" lengthAdjust="spacingAndGlyphs" stroke="#000" stroke-width="0.9">3</text>
<text x="561" y="1045.3" font-size="18.58" font-weight="bold" font-family='"Liberation Sans", sans-serif' text-anchor="start" textLength="4.5" lengthAdjust="spacingAndGlyphs" stroke="#000" stroke-width="0.9">1</text>
<text x="561" y="1069.3" font-size="18.58" font-weight="bold" font-family='"Liberation Sans", sans-serif' text-anchor="start" textLength="4.5" lengthAdjust="spacingAndGlyphs" stroke="#000" stroke-width="0.9">1</text>
<ellipse cx="723.5" cy="1015.0" rx="11.2" ry="10.8" fill="#fbfbfb" stroke="#000" stroke-width="3.2"/>
<text x="723.8" y="1021.6" font-size="18.14" font-weight="bold" font-family='"Liberation Sans", sans-serif' text-anchor="middle" textLength="10.7" lengthAdjust="spacingAndGlyphs" stroke="#000" stroke-width="0.9">L</text>
<ellipse cx="723.5" cy="1038.7" rx="11.2" ry="10.8" fill="#fbfbfb" stroke="#000" stroke-width="3.2"/>
<text x="723.8" y="1045.3" font-size="18.14" font-weight="bold" font-family='"Liberation Sans", sans-serif' text-anchor="middle" textLength="8.5" lengthAdjust="spacingAndGlyphs" stroke="#000" stroke-width="0.9">J</text>
<ellipse cx="723.5" cy="1062.2" rx="11.2" ry="10.8" fill="#fbfbfb" stroke="#000" stroke-width="3.2"/>
<text x="723.8" y="1068.8" font-size="18.14" font-weight="bold" font-family='"Liberation Sans", sans-serif' text-anchor="middle" textLength="11" lengthAdjust="spacingAndGlyphs" stroke="#000" stroke-width="0.9">K</text>
<text x="698.5" y="1021.9" font-size="18.58" font-weight="bold" font-family='"Liberation Sans", sans-serif' text-anchor="start" textLength="4.5" lengthAdjust="spacingAndGlyphs" stroke="#000" stroke-width="0.9">1</text>
<text x="697.2" y="1045.3" font-size="18.58" font-weight="bold" font-family='"Liberation Sans", sans-serif' text-anchor="start" textLength="6" lengthAdjust="spacingAndGlyphs" stroke="#000" stroke-width="0.9">4</text>
<text x="697.2" y="1069.3" font-size="18.58" font-weight="bold" font-family='"Liberation Sans", sans-serif' text-anchor="start" textLength="6" lengthAdjust="spacingAndGlyphs" stroke="#000" stroke-width="0.9">4</text>
<ellipse cx="937.4" cy="1015.0" rx="11.2" ry="10.8" fill="#fbfbfb" stroke="#000" stroke-width="3.2"/>
<text x="937.6999999999999" y="1021.6" font-size="18.14" font-weight="bold" font-family='"Liberation Sans", sans-serif' text-anchor="middle" textLength="10.7" lengthAdjust="spacingAndGlyphs" stroke="#000" stroke-width="0.9">L</text>
<ellipse cx="937.4" cy="1038.7" rx="11.2" ry="10.8" fill="#fbfbfb" stroke="#000" stroke-width="3.2"/>
<text x="937.6999999999999" y="1045.3" font-size="18.14" font-weight="bold" font-family='"Liberation Sans", sans-serif' text-anchor="middle" textLength="8.5" lengthAdjust="spacingAndGlyphs" stroke="#000" stroke-width="0.9">J</text>
<ellipse cx="937.4" cy="1062.2" rx="11.2" ry="10.8" fill="#fbfbfb" stroke="#000" stroke-width="3.2"/>
<text x="937.6999999999999" y="1068.8" font-size="18.14" font-weight="bold" font-family='"Liberation Sans", sans-serif' text-anchor="middle" textLength="11" lengthAdjust="spacingAndGlyphs" stroke="#000" stroke-width="0.9">K</text>
<text x="910.5" y="1021.9" font-size="19.01" font-weight="bold" font-family='"Liberation Sans", sans-serif' text-anchor="start" textLength="7" lengthAdjust="spacingAndGlyphs" stroke="#000" stroke-width="0.9">2</text>
<text x="910.5" y="1045.3" font-size="19.01" font-weight="bold" font-family='"Liberation Sans", sans-serif' text-anchor="start" textLength="7" lengthAdjust="spacingAndGlyphs" stroke="#000" stroke-width="0.9">2</text>
<text x="910.5" y="1069.3" font-size="19.01" font-weight="bold" font-family='"Liberation Sans", sans-serif' text-anchor="start" textLength="7" lengthAdjust="spacingAndGlyphs" stroke="#000" stroke-width="0.9">2</text>
<text x="955" y="1023" font-size="20.35" font-weight="bold" font-family='"Liberation Sans", sans-serif' text-anchor="start" textLength="17.7" lengthAdjust="spacingAndGlyphs" ><tspan font-size="12.62" dy="-4.48">*</tspan><tspan dy="4.48">6</tspan></text>
<ellipse cx="1059" cy="1038.7" rx="11.2" ry="10.8" fill="#fbfbfb" stroke="#000" stroke-width="3.2"/>
<text x="1059.3" y="1045.3" font-size="18.14" font-weight="bold" font-family='"Liberation Sans", sans-serif' text-anchor="middle" textLength="8.5" lengthAdjust="spacingAndGlyphs" stroke="#000" stroke-width="0.9">J</text>
<ellipse cx="1059" cy="1062.2" rx="11.2" ry="10.8" fill="#fbfbfb" stroke="#000" stroke-width="3.2"/>
<text x="1059.3" y="1068.8" font-size="18.14" font-weight="bold" font-family='"Liberation Sans", sans-serif' text-anchor="middle" textLength="11" lengthAdjust="spacingAndGlyphs" stroke="#000" stroke-width="0.9">K</text>
<text x="1033.7" y="1045.3" font-size="18.58" font-weight="bold" font-family='"Liberation Sans", sans-serif' text-anchor="start" textLength="6" lengthAdjust="spacingAndGlyphs" stroke="#000" stroke-width="0.9">3</text>
<text x="1033.7" y="1069.3" font-size="18.58" font-weight="bold" font-family='"Liberation Sans", sans-serif' text-anchor="start" textLength="6" lengthAdjust="spacingAndGlyphs" stroke="#000" stroke-width="0.9">3</text>
<text x="1078" y="1046" font-size="19.62" font-weight="bold" font-family='"Liberation Sans", sans-serif' text-anchor="start" textLength="18" lengthAdjust="spacingAndGlyphs" ><tspan font-size="12.17" dy="-4.32">*</tspan><tspan dy="4.32">5</tspan></text>
<text x="1078" y="1069" font-size="19.62" font-weight="bold" font-family='"Liberation Sans", sans-serif' text-anchor="start" textLength="18" lengthAdjust="spacingAndGlyphs" ><tspan font-size="12.17" dy="-4.32">*</tspan><tspan dy="4.32">4</tspan></text>
<line x1="602.3" y1="1015.0" x2="691.5" y2="1015.0" stroke="#000" stroke-width="3.3" stroke-dasharray="10.68,5.03"/>
<line x1="602.3" y1="1038.7" x2="691.5" y2="1038.7" stroke="#000" stroke-width="3.3" stroke-dasharray="10.68,5.03"/>
<line x1="602.3" y1="1062.2" x2="691.5" y2="1062.2" stroke="#000" stroke-width="3.3" stroke-dasharray="10.68,5.03"/>
<line x1="332.2" y1="1062.2" x2="554.4" y2="1062.2" stroke="#000" stroke-width="3.3" stroke-dasharray="10.29,4.84"/>
<line x1="755.6" y1="1015.0" x2="906" y2="1015.0" stroke="#000" stroke-width="3.3" stroke-dasharray="10.57,4.97"/>
<line x1="755.6" y1="1038.7" x2="906" y2="1038.7" stroke="#000" stroke-width="3.3" stroke-dasharray="10.57,4.97"/>
<line x1="737" y1="1062.2" x2="906" y2="1062.2" stroke="#000" stroke-width="3.3" stroke-dasharray="10.76,5.06"/>
<line x1="958.6" y1="1038.7" x2="1029.7" y2="1038.7" stroke="#000" stroke-width="3.3" stroke-dasharray="10.33,4.86"/>
<line x1="958.6" y1="1062.2" x2="1029.7" y2="1062.2" stroke="#000" stroke-width="3.3" stroke-dasharray="8.51,4.01"/>
<rect x="281.7" y="1075.3" width="868.7" height="244.0" fill="none" stroke="#000" stroke-width="4.4"/>
<text x="322" y="1096.5" font-size="19.62" font-weight="bold" font-family='"Liberation Serif", serif' text-anchor="start" textLength="10" lengthAdjust="spacingAndGlyphs" >B</text>
<text x="598.7" y="1097.5" font-size="19.62" font-weight="bold" font-family='"Liberation Serif", serif' text-anchor="start" textLength="7.5" lengthAdjust="spacingAndGlyphs" >S</text>
<text x="736" y="1097.5" font-size="19.62" font-weight="bold" font-family='"Liberation Serif", serif' text-anchor="start" textLength="8.3" lengthAdjust="spacingAndGlyphs" >L</text>
<text x="951.7" y="1096.7" font-size="20.64" font-weight="bold" font-family='"Liberation Serif", serif' text-anchor="start" textLength="5" lengthAdjust="spacingAndGlyphs" >I</text>
<text x="960.5" y="1096.7" font-size="20.64" font-weight="bold" font-family='"Liberation Serif", serif' text-anchor="start" textLength="11" lengthAdjust="spacingAndGlyphs" >G</text>
<text x="1069.7" y="1096.5" font-size="19.62" font-weight="bold" font-family='"Liberation Serif", serif' text-anchor="start" textLength="12.5" lengthAdjust="spacingAndGlyphs" >M</text>
<polyline points="310.7,1075 310.7,1273.2" fill="none" stroke="#000" stroke-width="2.6" stroke-linejoin="miter" />
<circle cx="310.7" cy="1105" r="2.5" fill="#000"/>
<polyline points="310.7,1105 570.4,1105 570.4,1167" fill="none" stroke="#000" stroke-width="2.6" stroke-linejoin="miter" />
<circle cx="387" cy="1105" r="2.8" fill="#000"/>
<polyline points="586,1075 586,1167" fill="none" stroke="#000" stroke-width="2.6" stroke-linejoin="miter" />
<polyline points="723.5,1075 723.5,1167" fill="none" stroke="#000" stroke-width="2.6" stroke-linejoin="miter" />
<polyline points="937,1075 937,1167" fill="none" stroke="#000" stroke-width="2.6" stroke-linejoin="miter" />
<polyline points="1059,1075 1059,1226 968,1226" fill="none" stroke="#000" stroke-width="2.6" stroke-linejoin="miter" />
<rect x="554.7" y="1166.7" width="413.29999999999995" height="135.79999999999995" fill="#fbfbfb" stroke="#000" stroke-width="4"/>
<text x="611.8" y="1242.8" font-size="21.08" font-weight="normal" font-family='"Liberation Sans", sans-serif' text-anchor="start" textLength="276.6" lengthAdjust="spacingAndGlyphs" stroke="#000" stroke-width="1.0">РЕГУЛЯТОР НАПРЯЖЕНИЯ</text>
<text x="462.8" y="1343" font-size="20.65" font-weight="bold" font-family='"Liberation Sans", sans-serif' text-anchor="start" textLength="120.2" lengthAdjust="spacingAndGlyphs" stroke="#fbfbfb" stroke-width="0.35">ГЕНЕРАТОР</text>
<polyline points="386.7,1105 386.7,1334.7" fill="none" stroke="#000" stroke-width="3" stroke-linejoin="miter" />
<polyline points="356.6,1136.3 402.3,1136.3" fill="none" stroke="#000" stroke-width="3" stroke-linejoin="miter" />
<polyline points="356.6,1258.4 402.3,1258.4" fill="none" stroke="#000" stroke-width="3" stroke-linejoin="miter" />
<polyline points="356.6,1136 356.6,1258.3" fill="none" stroke="#000" stroke-width="3" stroke-linejoin="miter" />
<polygon points="350.3,1154.5 362.90000000000003,1154.5 361.1,1157.7 352.1,1157.7" fill="#000"/>
<polygon points="350.1,1168.1 363.1,1168.1 357.40000000000003,1156.8 355.8,1156.8" fill="#000"/>
<polygon points="350.3,1226.2 362.90000000000003,1226.2 361.1,1229.4 352.1,1229.4" fill="#000"/>
<polygon points="350.1,1239.8 363.1,1239.8 357.40000000000003,1228.5 355.8,1228.5" fill="#000"/>
<polyline points="371.6,1136 371.6,1258.3" fill="none" stroke="#000" stroke-width="3" stroke-linejoin="miter" />
<polygon points="365.3,1154.5 377.90000000000003,1154.5 376.1,1157.7 367.1,1157.7" fill="#000"/>
<polygon points="365.1,1168.1 378.1,1168.1 372.40000000000003,1156.8 370.8,1156.8" fill="#000"/>
<polygon points="365.3,1226.2 377.90000000000003,1226.2 376.1,1229.4 367.1,1229.4" fill="#000"/>
<polygon points="365.1,1239.8 378.1,1239.8 372.40000000000003,1228.5 370.8,1228.5" fill="#000"/>
<polyline points="386.7,1136 386.7,1258.3" fill="none" stroke="#000" stroke-width="3" stroke-linejoin="miter" />
<polygon points="380.4,1154.5 393.0,1154.5 391.2,1157.7 382.2,1157.7" fill="#000"/>
<polygon points="380.2,1168.1 393.2,1168.1 387.5,1156.8 385.9,1156.8" fill="#000"/>
<polygon points="380.4,1226.2 393.0,1226.2 391.2,1229.4 382.2,1229.4" fill="#000"/>
<polygon points="380.2,1239.8 393.2,1239.8 387.5,1228.5 385.9,1228.5" fill="#000"/>
<polyline points="402.3,1136 402.3,1258.3" fill="none" stroke="#000" stroke-width="3" stroke-linejoin="miter" />
<polygon points="396.0,1154.5 408.6,1154.5 406.8,1157.7 397.8,1157.7" fill="#000"/>
<polygon points="395.8,1168.1 408.8,1168.1 403.1,1156.8 401.5,1156.8" fill="#000"/>
<polygon points="396.0,1226.2 408.6,1226.2 406.8,1229.4 397.8,1229.4" fill="#000"/>
<polygon points="395.8,1239.8 408.8,1239.8 403.1,1228.5 401.5,1228.5" fill="#000"/>
<circle cx="371.6" cy="1136" r="2.6" fill="#000"/>
<circle cx="371.6" cy="1258.3" r="2.6" fill="#000"/>
<circle cx="386.7" cy="1136" r="2.6" fill="#000"/>
<circle cx="386.7" cy="1258.3" r="2.6" fill="#000"/>
<circle cx="402.3" cy="1181" r="2.6" fill="#000"/>
<circle cx="356.6" cy="1191.4" r="2.6" fill="#000"/>
<circle cx="386.7" cy="1201.1" r="2.6" fill="#000"/>
<circle cx="371.6" cy="1212" r="2.6" fill="#000"/>
<polyline points="402.3,1181 417.7,1181 417.7,1141.6 455.2,1141.6 462.8,1154" fill="none" stroke="#000" stroke-width="2.6" stroke-linejoin="miter" />
<polyline points="356.6,1191.8 483.4,1191.8" fill="none" stroke="#000" stroke-width="2.6" stroke-linejoin="miter" />
<polyline points="386.7,1201.1 432.7,1201.1 432.7,1243 454.3,1243 464.4,1226.6" fill="none" stroke="#000" stroke-width="2.6" stroke-linejoin="miter" />
<polyline points="371.6,1212 417.7,1212 417.7,1259 554.7,1259" fill="none" stroke="#000" stroke-width="2.6" stroke-linejoin="miter" />
<polyline points="539.7,1191.8 539.7,1259" fill="none" stroke="#000" stroke-width="2.6" stroke-linejoin="miter" />
<circle cx="539.7" cy="1259" r="2.8" fill="#000"/>
<circle cx="386.7" cy="1288" r="2.6" fill="#000"/>
<polyline points="386.7,1288 554.7,1288" fill="none" stroke="#000" stroke-width="2.6" stroke-linejoin="miter" />
<path d="M462.8,1154.0 C471.4,1151.8 490.0,1185.8 483.4,1191.8" fill="none" stroke="#000" stroke-width="3.2"/>
<line x1="473.3" y1="1165.9" x2="465.7" y2="1170.1" stroke="#000" stroke-width="4.2" stroke-linecap="round"/>
<line x1="478.6" y1="1175.8" x2="471.0" y2="1179.9" stroke="#000" stroke-width="4.2" stroke-linecap="round"/>
<path d="M483.4,1191.8 C490.0,1197.7 472.9,1229.0 464.4,1226.6" fill="none" stroke="#000" stroke-width="3.2"/>
<line x1="479.6" y1="1206.0" x2="472.0" y2="1201.8" stroke="#000" stroke-width="4.2" stroke-linecap="round"/>
<line x1="474.7" y1="1215.1" x2="467.1" y2="1210.9" stroke="#000" stroke-width="4.2" stroke-linecap="round"/>
<polyline points="483.4,1191.8 494.2,1191.8" fill="none" stroke="#000" stroke-width="2.6" stroke-linejoin="miter" />
<path d="M494.2,1191.8 C495.8,1183.2 525.2,1183.2 526.8,1191.8" fill="none" stroke="#000" stroke-width="3.2"/>
<line x1="505.9" y1="1188.3" x2="505.9" y2="1197.0" stroke="#000" stroke-width="4.2" stroke-linecap="round"/>
<line x1="514.4" y1="1188.3" x2="514.4" y2="1197.0" stroke="#000" stroke-width="4.2" stroke-linecap="round"/>
<polyline points="526.8,1191.8 539.7,1191.8" fill="none" stroke="#000" stroke-width="2.6" stroke-linejoin="miter" />
<polyline points="310.7,1273.2 452,1273.2" fill="none" stroke="#000" stroke-width="2.6" stroke-linejoin="miter" />
<path d="M452.0,1273.2 C453.6,1264.6 483.4,1264.6 485.0,1273.2" fill="none" stroke="#000" stroke-width="3.2"/>
<line x1="463.9" y1="1269.7" x2="463.9" y2="1278.4" stroke="#000" stroke-width="4.2" stroke-linecap="round"/>
<line x1="472.5" y1="1269.7" x2="472.5" y2="1278.4" stroke="#000" stroke-width="4.2" stroke-linecap="round"/>
<polyline points="485,1273.2 554.7,1273.2" fill="none" stroke="#000" stroke-width="2.6" stroke-linejoin="miter" />
<text x="0" y="0" transform="translate(331,1134) rotate(90)" font-size="17.12" font-weight="bold" font-family='"Liberation Sans", sans-serif' text-anchor="start" textLength="17" lengthAdjust="spacingAndGlyphs" stroke="#000" stroke-width="0.9"><tspan font-size="10.62" dy="-3.77">*</tspan><tspan dy="3.77">2</tspan></text>
<text x="0" y="0" transform="translate(331,1179) rotate(90)" font-size="17.12" font-weight="bold" font-family='"Liberation Sans", sans-serif' text-anchor="start" textLength="17" lengthAdjust="spacingAndGlyphs" stroke="#000" stroke-width="0.9"><tspan font-size="10.62" dy="-3.77">*</tspan><tspan dy="3.77">2</tspan></text>
<text x="0" y="0" transform="translate(331,1239) rotate(90)" font-size="17.12" font-weight="bold" font-family='"Liberation Sans", sans-serif' text-anchor="start" textLength="17" lengthAdjust="spacingAndGlyphs" stroke="#000" stroke-width="0.9"><tspan font-size="10.62" dy="-3.77">*</tspan><tspan dy="3.77">2</tspan></text>
<text x="437.7" y="1185" font-size="18.17" font-weight="bold" font-family='"Liberation Sans", sans-serif' text-anchor="start" textLength="17.6" lengthAdjust="spacingAndGlyphs" ><tspan font-size="11.26" dy="-4.00">*</tspan><tspan dy="4.00">2</tspan></text>
<polyline points="370.1,1334.7 402.7,1334.7" fill="none" stroke="#000" stroke-width="3" stroke-linejoin="miter" />
<polyline points="378.3,1340.1 394.7,1340.1" fill="none" stroke="#000" stroke-width="3" stroke-linejoin="miter" />
<polyline points="380.2,1345 392.9,1345" fill="none" stroke="#000" stroke-width="3" stroke-linejoin="miter" />
<polyline points="383.2,1349.8 390,1349.8" fill="none" stroke="#000" stroke-width="3" stroke-linejoin="miter" />
<text x="948.5" y="720.3" font-size="20.07" font-weight="bold" font-family='"Liberation Sans", sans-serif' text-anchor="start" textLength="218.3" lengthAdjust="spacingAndGlyphs" stroke="#fbfbfb" stroke-width="0.35">ЭЛЕКТРОННЫЙ БЛОК</text>
<text x="948.5" y="745.8" font-size="21.24" font-weight="bold" font-family='"Liberation Sans", sans-serif' text-anchor="start" textLength="282.5" lengthAdjust="spacingAndGlyphs" stroke="#fbfbfb" stroke-width="0.35">УПРАВЛЕНИЯ ДВИГАТЕЛЕМ</text>
<rect x="1044.2" y="755.2" width="30.200000000000045" height="60.39999999999998" fill="none" stroke="#000" stroke-width="4.2"/>
<text x="0" y="0" transform="translate(1050,787) rotate(90)" font-size="17.85" font-weight="bold" font-family='"Liberation Sans", sans-serif' text-anchor="start" textLength="10" lengthAdjust="spacingAndGlyphs" stroke="#000" stroke-width="0.9">D</text>
<text x="0" y="0" transform="translate(1050,799.5) rotate(90)" font-size="17.85" font-weight="bold" font-family='"Liberation Sans", sans-serif' text-anchor="start" textLength="9" lengthAdjust="spacingAndGlyphs" stroke="#000" stroke-width="0.9">F</text>
<ellipse cx="1058.5" cy="827.6" rx="11.3" ry="10.2" fill="#fbfbfb" stroke="#000" stroke-width="3.4"/>
<text x="1058.8" y="834.1" font-size="17.85" font-weight="bold" font-family='"Liberation Sans", sans-serif' text-anchor="middle" textLength="9.7" lengthAdjust="spacingAndGlyphs" stroke="#000" stroke-width="0.9">E</text>
<ellipse cx="1058.5" cy="850.8" rx="11.3" ry="10.2" fill="#fbfbfb" stroke="#000" stroke-width="3.4"/>
<text x="1058.8" y="857.3" font-size="17.85" font-weight="bold" font-family='"Liberation Sans", sans-serif' text-anchor="middle" textLength="8.5" lengthAdjust="spacingAndGlyphs" stroke="#000" stroke-width="0.9">F</text>
<ellipse cx="1058.5" cy="876.3" rx="11.3" ry="10.2" fill="#fbfbfb" stroke="#000" stroke-width="3.4"/>
<text x="1058.8" y="882.8" font-size="17.85" font-weight="bold" font-family='"Liberation Sans", sans-serif' text-anchor="middle" textLength="10.5" lengthAdjust="spacingAndGlyphs" stroke="#000" stroke-width="0.9">G</text>
<text x="1021.6" y="834.5" font-size="18.14" font-weight="bold" font-family='"Liberation Sans", sans-serif' text-anchor="start" textLength="4.1" lengthAdjust="spacingAndGlyphs" stroke="#000" stroke-width="0.9">1</text>
<text x="1032.8" y="834.5" font-size="18.14" font-weight="bold" font-family='"Liberation Sans", sans-serif' text-anchor="start" textLength="7.2" lengthAdjust="spacingAndGlyphs" stroke="#000" stroke-width="0.9">5</text>
<text x="1033.3" y="858" font-size="18.14" font-weight="bold" font-family='"Liberation Sans", sans-serif' text-anchor="start" textLength="6.1" lengthAdjust="spacingAndGlyphs" stroke="#000" stroke-width="0.9">3</text>
<text x="1033" y="882.4" font-size="18.14" font-weight="bold" font-family='"Liberation Sans", sans-serif' text-anchor="start" textLength="6.5" lengthAdjust="spacingAndGlyphs" stroke="#000" stroke-width="0.9">4</text>
<text x="1077" y="835.3" font-size="20.64" font-weight="bold" font-family='"Liberation Sans", sans-serif' text-anchor="start" textLength="18.4" lengthAdjust="spacingAndGlyphs" ><tspan font-size="12.80" dy="-4.54">*</tspan><tspan dy="4.54">5</tspan></text>
<text x="1077" y="859.3" font-size="20.64" font-weight="bold" font-family='"Liberation Sans", sans-serif' text-anchor="start" textLength="18.4" lengthAdjust="spacingAndGlyphs" ><tspan font-size="12.80" dy="-4.54">*</tspan><tspan dy="4.54">2</tspan></text>
<text x="1077" y="883.2" font-size="20.64" font-weight="bold" font-family='"Liberation Sans", sans-serif' text-anchor="start" textLength="18.4" lengthAdjust="spacingAndGlyphs" ><tspan font-size="12.80" dy="-4.54">*</tspan><tspan dy="4.54">3</tspan></text>
<ellipse cx="1248.6" cy="1012.9" rx="1.8" ry="2.4" fill="#000" transform="rotate(30 1248.6 1012.9)"/>
<ellipse cx="131.8" cy="1475.5" rx="6.5" ry="3.8" fill="#000"/>
</svg></body></html>
